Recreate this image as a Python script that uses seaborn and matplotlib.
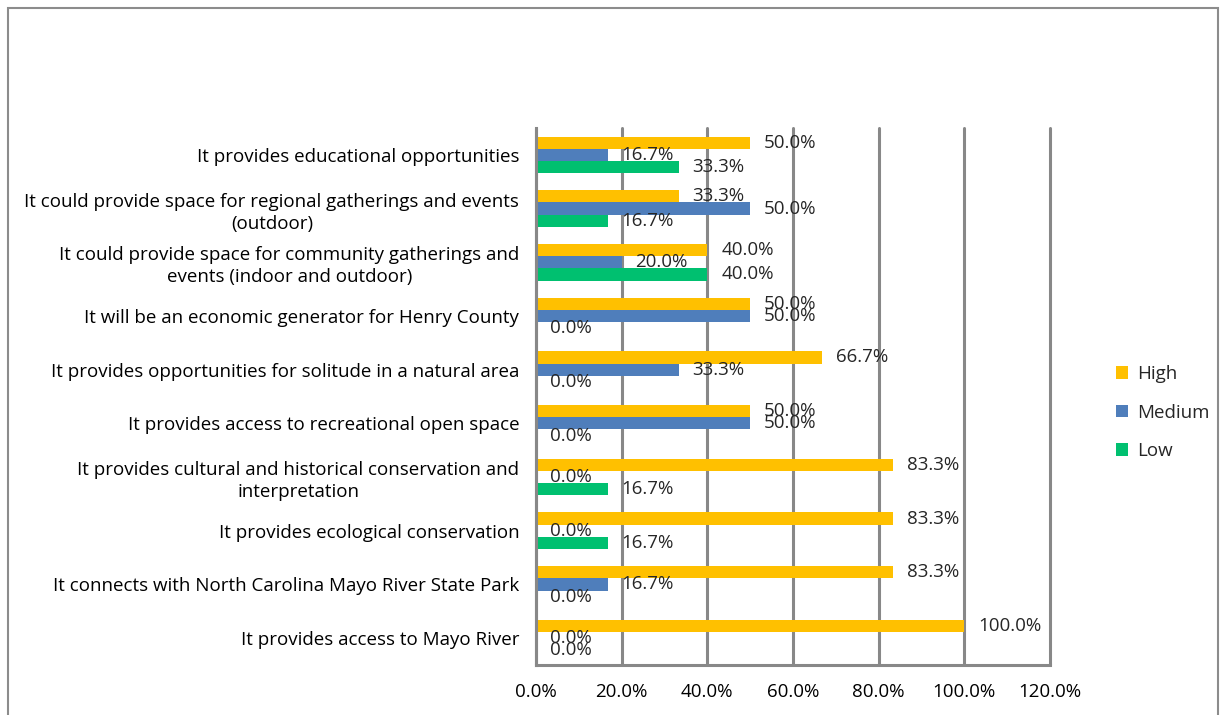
import numpy as np
import pandas as pd
import matplotlib
matplotlib.use("Agg")
import matplotlib.pyplot as plt
import seaborn as sns
from matplotlib.patches import Rectangle
from matplotlib.ticker import FuncFormatter, FixedLocator

categories = [
    "It provides educational opportunities",
    "It could provide space for regional gatherings and events\n(outdoor)",
    "It could provide space for community gatherings and\nevents (indoor and outdoor)",
    "It will be an economic generator for Henry County",
    "It provides opportunities for solitude in a natural area",
    "It provides access to recreational open space",
    "It provides cultural and historical conservation and\ninterpretation",
    "It provides ecological conservation",
    "It connects with North Carolina Mayo River State Park",
    "It provides access to Mayo River",
]
high = [50.0, 33.3, 40.0, 50.0, 66.7, 50.0, 83.3, 83.3, 83.3, 100.0]
medium = [16.7, 50.0, 20.0, 50.0, 33.3, 50.0, 0.0, 0.0, 16.7, 0.0]
low = [33.3, 16.7, 40.0, 0.0, 0.0, 0.0, 16.7, 16.7, 0.0, 0.0]
levels = ["High", "Medium", "Low"]
colors = ["#FFC000", "#4F7EBB", "#00C070"]

df = pd.DataFrame({
    "category": categories * 3,
    "level": [l for l in levels for _ in categories],
    "value": high + medium + low,
})

sns.set_style("white")
plt.rcParams["font.family"] = ["Open Sans", "DejaVu Sans"]
fs = 13.5

fig = plt.figure(figsize=(12.21, 7.15), dpi=100)
ax = fig.add_axes([536 / 1221, 1 - 665 / 715, (1050 - 536) / 1221, (665 - 128) / 715])

sns.barplot(data=df, y="category", x="value", hue="level", hue_order=levels,
            order=categories, palette=colors, orient="h", width=0.68,
            saturation=1, linewidth=0, ax=ax, legend=True)

grid_c = "#888888"
ax.set_xlim(0, 120)
ax.set_ylim(len(categories) - 0.5, -0.5)
ax.set_xticks(np.arange(0, 121, 20))
ax.xaxis.set_major_formatter(FuncFormatter(lambda v, p: f"{v:.1f}%"))
ax.grid(axis="x", color=grid_c, linewidth=2.2)
for gl in ax.get_xgridlines():
    gl.set_clip_on(False)
ax.set_axisbelow(True)
ax.set_xlabel("")
ax.set_ylabel("")

for s in ["top", "right"]:
    ax.spines[s].set_visible(False)
for s in ["left", "bottom"]:
    ax.spines[s].set_color(grid_c)
    ax.spines[s].set_linewidth(2.2)

ax.tick_params(axis="x", colors=grid_c, labelcolor="black", length=6, width=2,
               direction="out", labelsize=fs, pad=7)
ax.tick_params(axis="y", which="major", length=0, labelsize=fs, pad=12,
               labelcolor="black")
ax.yaxis.set_minor_locator(FixedLocator(np.arange(-0.5, len(categories), 1)))
ax.tick_params(axis="y", which="minor", length=6, width=2, color=grid_c,
               direction="out")
for lbl in ax.get_yticklabels():
    lbl.set_multialignment("center")
    lbl.set_linespacing(1.3)

for cont in ax.containers:
    ax.bar_label(cont, fmt="%.1f%%", padding=10, fontsize=fs)

leg = ax.legend(loc="center left", bbox_to_anchor=(1.095, 0.47), frameon=False,
                fontsize=fs, handlelength=0.65, handleheight=0.65,
                labelspacing=1.1, handletextpad=0.5)

fig.patches.append(Rectangle((8 / 1221, -0.01), (1218 - 8) / 1221, 1 - 8 / 715 + 0.01,
                             transform=fig.transFigure, fill=False,
                             edgecolor="#8C8C8C", linewidth=1.5))

fig.savefig("out.png", dpi=100)
